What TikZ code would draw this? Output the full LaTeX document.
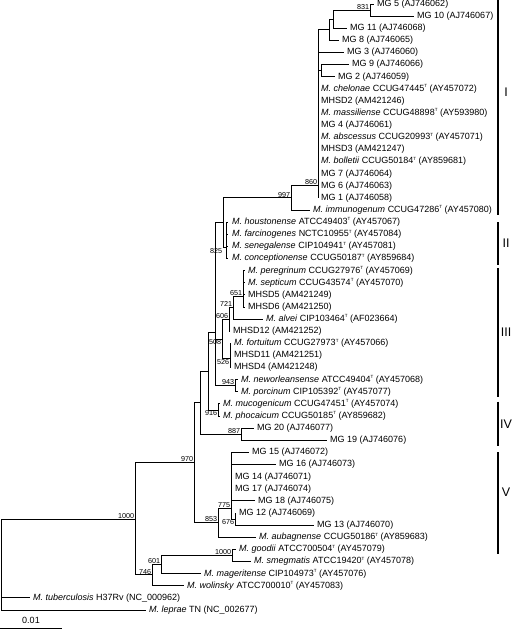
\documentclass[tikz,border=0pt]{standalone}
\usepackage{fontspec}
\setmainfont{Liberation Sans}
\newcommand{\tstr}{\raisebox{3.6pt}{\fontsize{4.5}{5}\selectfont T}}
\newcommand{\msp}[1]{\textit{M. #1}}

\begin{document}
\begin{tikzpicture}[x=1pt,y=-12.12pt,
	leaf/.style={anchor=west,inner xsep=3pt,inner ysep=0pt,text height=6.6pt,text depth=1.9pt,font=\fontsize{9}{10}\selectfont},
	boot/.style={anchor=south east,inner sep=0.6pt,font=\fontsize{7.2}{8}\selectfont},
	bootb/.style={anchor=north east,inner sep=0.6pt,font=\fontsize{7.2}{8}\selectfont},
	grp/.style={font=\fontsize{12.5}{13}\selectfont},
	br/.style={line width=1pt},
	bar/.style={line width=2.6pt}]
	\useasboundingbox (0,-0.33) rectangle (512,51.73);
	% leaves
	\node[leaf] (mg5) at (374,0) {MG 5 (AJ746062)};
	\node[leaf] (mg10) at (414,1) {MG 10 (AJ746067)};
	\node[leaf] (mg11) at (347,2) {MG 11 (AJ746068)};
	\node[leaf] (mg8) at (339,3) {MG 8 (AJ746065)};
	\node[leaf] (mg3) at (344,4) {MG 3 (AJ746060)};
	\node[leaf] (mg9) at (349,5) {MG 9 (AJ746066)};
	\node[leaf] (mg2) at (335,6) {MG 2 (AJ746059)};
	\node[leaf] (chel) at (318,7) {\msp{chelonae} CCUG47445\tstr{} (AY457072)};
	\node[leaf] (mhsd2) at (318,8) {MHSD2 (AM421246)};
	\node[leaf] (mass) at (318,9) {\msp{massiliense} CCUG48898\tstr{} (AY593980)};
	\node[leaf] (mg4) at (318,10) {MG 4 (AJ746061)};
	\node[leaf] (absc) at (318,11) {\msp{abscessus} CCUG20993\tstr{} (AY457071)};
	\node[leaf] (mhsd3) at (318,12) {MHSD3 (AM421247)};
	\node[leaf] (boll) at (318,13) {\msp{bolletii} CCUG50184\tstr{} (AY859681)};
	\node[leaf] (mg7) at (318,14) {MG 7 (AJ746064)};
	\node[leaf] (mg6) at (318,15) {MG 6 (AJ746063)};
	\node[leaf] (mg1) at (318,16) {MG 1 (AJ746058)};
	\node[leaf] (immu) at (310,17) {\msp{immunogenum} CCUG47286\tstr{} (AY457080)};
	\node[leaf,inner xsep=4.5pt] (hous) at (227.5,18) {\msp{houstonense} ATCC49403\tstr{} (AY457067)};
	\node[leaf,inner xsep=4.5pt] (farc) at (227.5,19) {\msp{farcinogenes} NCTC10955\tstr{} (AY457084)};
	\node[leaf,inner xsep=4.5pt] (sene) at (227.5,20) {\msp{senegalense} CIP104941\tstr{} (AY457081)};
	\node[leaf,inner xsep=4.5pt] (conc) at (227.5,21) {\msp{conceptionense} CCUG50187\tstr{} (AY859684)};
	\node[leaf] (pere) at (245,22) {\msp{peregrinum} CCUG27976\tstr{} (AY457069)};
	\node[leaf] (sept) at (245,23) {\msp{septicum} CCUG43574\tstr{} (AY457070)};
	\node[leaf] (mhsd5) at (245,24) {MHSD5 (AM421249)};
	\node[leaf] (mhsd6) at (245,25) {MHSD6 (AM421250)};
	\node[leaf] (alve) at (263,26) {\msp{alvei} CIP103464\tstr{} (AF023664)};
	\node[leaf] (mhsd12) at (230,27) {MHSD12 (AM421252)};
	\node[leaf] (fort) at (231,28) {\msp{fortuitum} CCUG27973\tstr{} (AY457066)};
	\node[leaf] (mhsd11) at (231,29) {MHSD11 (AM421251)};
	\node[leaf] (mhsd4) at (231,30) {MHSD4 (AM421248)};
	\node[leaf] (newo) at (238,31) {\msp{neworleansense} ATCC49404\tstr{} (AY457068)};
	\node[leaf] (porc) at (238,32) {\msp{porcinum} CIP105392\tstr{} (AY457077)};
	\node[leaf] (muco) at (220,33) {\msp{mucogenicum} CCUG47451\tstr{} (AY457074)};
	\node[leaf] (phoc) at (220,34) {\msp{phocaicum} CCUG50185\tstr{} (AY859682)};
	\node[leaf] (mg20) at (254,35) {MG 20 (AJ746077)};
	\node[leaf] (mg19) at (327,36) {MG 19 (AJ746076)};
	\node[leaf] (mg15) at (249,37) {MG 15 (AJ746072)};
	\node[leaf] (mg16) at (276,38) {MG 16 (AJ746073)};
	\node[leaf] (mg14) at (232,39) {MG 14 (AJ746071)};
	\node[leaf] (mg17) at (232,40) {MG 17 (AJ746074)};
	\node[leaf] (mg18) at (255,41) {MG 18 (AJ746075)};
	\node[leaf] (mg12) at (236,42) {MG 12 (AJ746069)};
	\node[leaf] (mg13) at (314,43) {MG 13 (AJ746070)};
	\node[leaf] (auba) at (256,44) {\msp{aubagnense} CCUG50186\tstr{} (AY859683)};
	\node[leaf] (good) at (236,45) {\msp{goodii} ATCC700504\tstr{} (AY457079)};
	\node[leaf] (smeg) at (251,46) {\msp{smegmatis} ATCC19420\tstr{} (AY457078)};
	\node[leaf] (mage) at (201,47) {\msp{mageritense} CIP104973\tstr{} (AY457076)};
	\node[leaf] (wolin) at (184,48) {\msp{wolinsky} ATCC700010\tstr{} (AY457083)};
	\node[leaf] (tube) at (30,49) {\msp{tuberculosis} H37Rv (NC\_000962)};
	\node[leaf] (lepr) at (146,50) {\msp{leprae} TN (NC\_002677)};
	% inner nodes
	\coordinate (n831) at (370,0.5);
	\coordinate (nA2) at (333,1.25);
	\coordinate (nA) at (329,2.12);
	\coordinate (nB) at (318,3.06);
	\coordinate (nC) at (321,5.5);
	\coordinate (n860) at (318,15);
	\coordinate (n997) at (291,16);
	\coordinate (n825) at (226,20.1);
	\coordinate (nD) at (223,18.05);
	\coordinate (n651) at (243,24.1);
	\coordinate (n721) at (233,25.05);
	\coordinate (n606) at (229,26.03);
	\coordinate (n526) at (230,29.25);
	\coordinate (n508) at (222,27.64);
	\coordinate (n943) at (235,31.5);
	\coordinate (nE) at (215,27.1);
	\coordinate (n916) at (218,33.5);
	\coordinate (nK) at (208,30.3);
	\coordinate (n887) at (241,35.5);
	\coordinate (nD2) at (200,32.9);
	\coordinate (n676) at (235,42.5);
	\coordinate (n775) at (231,41.6);
	\coordinate (n853) at (218,42.8);
	\coordinate (n970) at (194,37.85);
	\coordinate (n1000b) at (232,45.5);
	\coordinate (n601) at (161,46.25);
	\coordinate (n746) at (152,47.1);
	\coordinate (n1000) at (135,42.5);
	\coordinate (nroot) at (1,46.25);
	% branches
	\draw[br] (n831) |- (mg5) (n831) |- (mg10);
	\draw[br] (nA2) |- (n831) (nA2) |- (mg11);
	\draw[br] (nA) |- (nA2) (nA) |- (mg8);
	\draw[br] (nB) |- (nA) (nB) |- (mg3);
	\draw[br] (nC) |- (mg9) (nC) |- (mg2);
	\draw[br] (n860) |- (nB) (n860) |- (nC) (n860) |- (mg1);
	\foreach \c in {chel,mhsd2,mass,mg4,absc,mhsd3,boll,mg7,mg6}
		\draw[br] (n860) |- (\c);
	\draw[br] (n997) |- (n860) (n997) |- (immu);
	\draw[br] (n825) |- (hous) (n825) |- (farc) (n825) |- (sene) (n825) |- (conc);
	\draw[br] (nD) |- (n997) (nD) |- (n825);
	\draw[br] (n651) |- (pere) (n651) |- (sept) (n651) |- (mhsd5) (n651) |- (mhsd6);
	\draw[br] (n721) |- (n651) (n721) |- (alve);
	\draw[br] (n606) |- (n721) (n606) |- (mhsd12);
	\draw[br] (n526) |- (fort) (n526) |- (mhsd11) (n526) |- (mhsd4);
	\draw[br] (n508) |- (n606) (n508) |- (n526);
	\draw[br] (n943) |- (newo) (n943) |- (porc);
	\draw[br] (nE) |- (nD) (nE) |- (n508) (nE) |- (n943);
	\draw[br] (n916) |- (muco) (n916) |- (phoc);
	\draw[br] (nK) |- (nE) (nK) |- (n916);
	\draw[br] (n887) |- (mg20) (n887) |- (mg19);
	\draw[br] (nD2) |- (nK) (nD2) |- (n887);
	\draw[br] (n676) |- (mg12) (n676) |- (mg13);
	\draw[br] (n775) |- (mg15) (n775) |- (mg16) (n775) |- (mg14) (n775) |- (mg17) (n775) |- (mg18) (n775) |- (n676);
	\draw[br] (n853) |- (n775) (n853) |- (auba);
	\draw[br] (n970) |- (nD2) (n970) |- (n853);
	\draw[br] (n1000b) |- (good) (n1000b) |- (smeg);
	\draw[br] (n601) |- (n1000b) (n601) |- (mage);
	\draw[br] (n746) |- (n601) (n746) |- (wolin);
	\draw[br] (n1000) |- (n970) (n1000) |- (n746);
	\draw[br] (nroot) |- (n1000) (nroot) |- (tube) (nroot) |- (lepr);
	% bootstrap values
	\node[boot] (b831) at (n831) {831};
	\node[boot] (b860) at (n860) {860};
	\node[boot] (b997) at (n997) {997};
	\node[bootb] (b825) at ([xshift=-3pt]n825) {825};
	\node[boot] (b651) at (n651) {651};
	\node[boot] (b721) at (n721) {721};
	\node[boot] (b606) at (n606) {606};
	\node[bootb] (b508) at (n508) {508};
	\node[bootb] (b526) at (n526) {526};
	\node[boot] (b943) at (n943) {943};
	\node[bootb] (b916) at (n916) {916};
	\node[boot] (b887) at (n887) {887};
	\node[boot] (b970) at (n970) {970};
	\node[boot] (b853) at (n853) {853};
	\node[boot] (b775) at (n775) {775};
	\node[bootb] (b676) at (n676) {676};
	\node[boot] (b1000) at (n1000) {1000};
	\node[boot] (b1000b) at (n1000b) {1000};
	\node[boot] (b601) at (n601) {601};
	\node[boot] (b746) at (n746) {746};
	% groups
	\draw[bar] (498,-0.33) -- (498,17.4);
	\draw[bar] (498,17.99) -- (498,21.53);
	\draw[bar] (498,21.8) -- (498,32.4);
	\draw[bar] (498,32.8) -- (498,36.5);
	\draw[bar] (498,37) -- (498,45.4);
	\node[grp] (gI) at (506,7.3) {I};
	\node[grp] (gII) at (506,19.7) {II};
	\node[grp] (gIII) at (506,27.1) {III};
	\node[grp] (gIV) at (506,34.7) {IV};
	\node[grp] (gV) at (506,40.3) {V};
	% scale bar
	\coordinate (sb0) at (0,51.49);
	\coordinate (sb1) at (62,51.49);
	\draw[br] (sb0) -- (sb1) node[midway,above=1pt,font=\fontsize{9}{10}\selectfont] (sbl) {0.01};
\end{tikzpicture}
\end{document}
